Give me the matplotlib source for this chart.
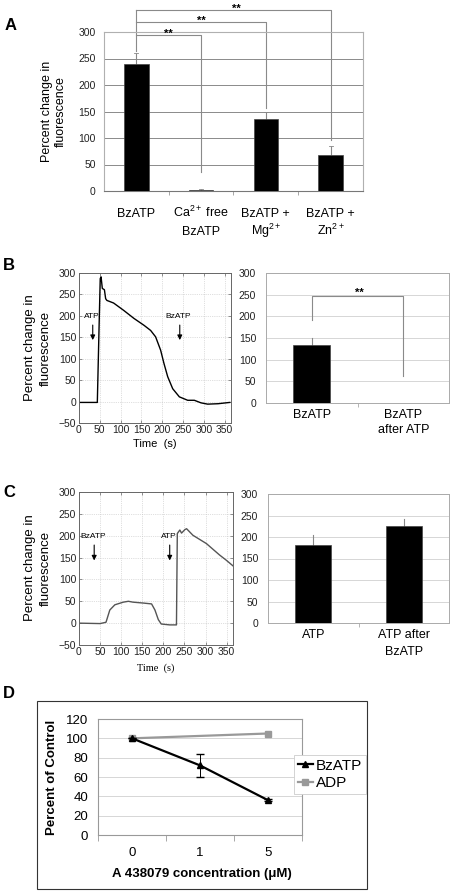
import matplotlib
matplotlib.use("Agg")
import matplotlib.pyplot as plt
from matplotlib.patches import Rectangle
import numpy as np

plt.rcParams['font.family'] = ['Liberation Sans', 'DejaVu Sans']
plt.rcParams['mathtext.fontset'] = 'custom'
plt.rcParams['mathtext.rm'] = 'Liberation Sans'
plt.rcParams['mathtext.it'] = 'Liberation Sans'

# ---------------- data ----------------
catsA = ["BzATP", "Ca$^{2+}$ free\nBzATP", "BzATP +\nMg$^{2+}$", "BzATP +\nZn$^{2+}$"]
valsA = [240, 2, 135, 67]
errA = [20, 2, 14, 17]

tB = [0, 20, 44, 48, 51, 53, 56, 61, 64, 67, 83, 107, 132, 156, 172, 184, 196, 204,
      213, 225, 241, 261, 277, 293, 309, 334, 362]
yB = [-2, -2, -2, 166, 287, 291, 264, 261, 240, 236, 230, 213, 194, 178, 166, 151, 120, 89,
      58, 30, 11, 3, 3, -3, -6, -5, -2]

catsB = ["BzATP", "BzATP\nafter ATP"]
valsB = [134, 0]
errB = [15, 0]

tC = [0, 50, 64, 73, 85, 105, 117, 128, 152, 172, 180, 188, 195, 215, 231, 233, 239, 243,
      251, 255, 270, 302, 333, 349, 365]
yC = [0, -1, 2, 30, 42, 48, 50, 48, 46, 44, 30, 8, -2, -4, -4, 205, 213, 206,
      214, 216, 201, 182, 156, 144, 131]

catsC = ["ATP", "ATP after\nBzATP"]
valsC = [182, 226]
errC = [23, 16]

concD = ["0", "1", "5"]
bzD = [100, 72, 36]
bzErrD = [0, 12, 1]
adpD = [100, 105]

# ---------------- layout helpers ----------------
W, H = 452, 893
fig = plt.figure(figsize=(W / 100, H / 100), dpi=100)


def rect(l, t, r, b):
    return [l / W, 1 - b / H, (r - l) / W, (b - t) / H]


def ftext(x, y, s, **kw):
    return fig.text(x / W, 1 - y / H, s, **kw)


# ---------------- Panel A ----------------
axA = fig.add_axes(rect(104, 32, 363, 191))
xA = np.arange(len(catsA))
axA.bar(xA, valsA, width=0.38, color='black', edgecolor='#444', lw=0.5, zorder=3)
for x, v, e in zip(xA, valsA, errA):
    axA.plot([x, x], [v, v + e], color='#888', lw=0.8, zorder=2, solid_capstyle='butt')
    axA.plot([x - 0.03, x + 0.03], [v + e, v + e], color='#888', lw=0.6, zorder=2)
axA.set_xlim(-0.5, 3.5)
axA.set_ylim(0, 300)
axA.set_yticks(range(0, 301, 50))
axA.yaxis.grid(True, color='#8a8a8a', lw=0.7)
axA.set_axisbelow(True)
for s in ['top', 'right', 'left']:
    axA.spines[s].set_color('#b0b0b0')
    axA.spines[s].set_linewidth(0.8)
axA.spines['bottom'].set_color('#777')
axA.tick_params(axis='y', length=0, pad=6, labelsize=7.5, labelcolor='#222')
axA.set_xticks([])
axA.set_xticks([0.5, 1.5, 2.5], minor=True)
axA.tick_params(axis='x', which='minor', length=3, color='#999', direction='out')
for i, lab in enumerate(catsA):
    parts = lab.split("\n")
    for j, p in enumerate(parts):
        axA.text(i, -0.1635 - 0.114 * j, p, transform=axA.get_xaxis_transform(),
                 ha='center', va='baseline', fontsize=9)

# significance brackets (x_right, y_bar, y_right_bottom, star_x, star_y)
gray = '#8a8a8a'
axA.plot([0, 0], [265, 341], color=gray, lw=0.8, clip_on=False)
for xr, yb, yr, sx, sy in [(1, 294, 36, 0.5, 291), (2, 319, 157, 1.0, 316), (3, 341, 96, 1.55, 338)]:
    axA.plot([0, xr, xr], [yb, yb, yr], color=gray, lw=0.8, clip_on=False)
    axA.text(sx, sy, "**", ha='center', va='baseline', fontsize=8, fontweight='bold', clip_on=False)
axA.set_ylabel("Percent change in\nfluorescence", fontsize=9, labelpad=8, linespacing=1.25)

ftext(5, 25, "A", fontsize=12, fontweight='bold', va='center')


# ---------------- trace axes helper ----------------
def trace_axes(box, t, y, color):
    ax = fig.add_axes(rect(*box))
    ax.plot(t, y, color=color, lw=1.0)
    ax.set_xlim(0, 365)
    ax.set_ylim(-50, 300)
    ax.set_xticks(range(0, 351, 50))
    ax.set_yticks(range(-50, 301, 50))
    ax.grid(True, color='#c0c0c0', lw=0.5, linestyle=':')
    for s in ax.spines.values():
        s.set_color('#666')
        s.set_linewidth(0.7)
    ax.tick_params(direction='in', length=2, width=0.5, labelsize=7.5, labelcolor='#222',
                   color='#666', top=True, right=True)
    ax.tick_params(axis='x', pad=1.5)
    ax.tick_params(axis='y', pad=2)
    return ax


def arrow(ax, x, label):
    ax.annotate('', xy=(x, 137), xytext=(x, 185),
                arrowprops=dict(arrowstyle='-|>', color='black', lw=0.8, mutation_scale=7))
    ax.text(x - 3, 199, label, ha='center', va='center', fontsize=6)


def bar_axes(box, cats, vals, errs, base1, base2):
    ax = fig.add_axes(rect(*box))
    x = np.arange(len(cats))
    ax.bar(x, vals, width=0.4, color='black', edgecolor='#444', lw=0.5, zorder=3)
    for xi, v, e in zip(x, vals, errs):
        if e > 0:
            ax.plot([xi, xi], [v, v + e], color='#888', lw=0.8, zorder=2)
    ax.set_xlim(-0.5, 1.5)
    ax.set_ylim(0, 300)
    ax.set_yticks(range(0, 301, 50))
    ax.yaxis.grid(True, color='#d0d0d0', lw=0.6)
    ax.set_axisbelow(True)
    for s in ax.spines.values():
        s.set_color('#aaa')
        s.set_linewidth(0.7)
    ax.tick_params(axis='y', length=0, pad=7, labelsize=7.5, labelcolor='#222')
    ax.set_xticks([])
    ax.set_xticks([0.5], minor=True)
    ax.tick_params(axis='x', which='minor', length=3, color='#aaa')
    for i, lab in enumerate(cats):
        for j, p in enumerate(lab.split("\n")):
            ax.text(i, base1 if j == 0 else base2, p, transform=ax.get_xaxis_transform(),
                    ha='center', va='baseline', fontsize=9)
    return ax


# ---------------- Panel B ----------------
axB = trace_axes((79, 273, 231, 423), tB, yB, 'black')
arrow(axB, 33, "ATP")
arrow(axB, 242, "BzATP")
ftext(155, 447, "Time  (s)", ha='center', va='baseline', fontsize=8)
ftext(38, 348, "Percent change in\nfluorescence", rotation=90, ha='center', va='center',
      fontsize=9.5, linespacing=1.35)
ftext(3, 266, "B", fontsize=12, fontweight='bold', va='center')

axBb = bar_axes((266, 273, 449, 403), catsB, valsB, errB, -0.115, -0.23)
axBb.plot([0, 0, 1, 1], [191, 246, 246, 63], color=gray, lw=0.8)
axBb.text(0.52, 248, "**", ha='center', va='baseline', fontsize=8, fontweight='bold')

# ---------------- Panel C ----------------
axC = trace_axes((79, 492, 233, 645), tC, yC, '#555555')
arrow(axC, 36, "BzATP")
arrow(axC, 215, "ATP")
ftext(156, 671, "Time  (s)", ha='center', va='baseline', fontsize=7.5,
      family=['Liberation Serif', 'DejaVu Serif'])
ftext(38, 568, "Percent change in\nfluorescence", rotation=90, ha='center', va='center',
      fontsize=9.5, linespacing=1.35)
ftext(3, 492, "C", fontsize=12, fontweight='bold', va='center')

axCb = bar_axes((268, 494, 449, 623), catsC, valsC, errC, -0.116, -0.248)

# ---------------- Panel D ----------------
fig.patches.append(Rectangle((37 / W, 1 - 889 / H), 330 / W, 188 / H, transform=fig.transFigure,
                             fill=False, edgecolor='#333', lw=0.8))
axD = fig.add_axes(rect(98, 719, 302, 835))
xD = np.arange(len(concD))
axD.plot(xD, bzD, color='black', lw=1.6, marker='^', ms=4.5, label='BzATP', zorder=4)
axD.errorbar(xD, bzD, yerr=bzErrD, fmt='none', ecolor='black', elinewidth=0.7, capsize=3, zorder=4)
axD.plot([xD[0], xD[-1]], adpD, color='#999999', lw=1.6, marker='s', ms=4, label='ADP', zorder=3)
axD.set_xlim(-0.5, 2.5)
axD.set_ylim(0, 120)
axD.set_yticks(range(0, 121, 20))
axD.set_xticks(xD, concD)
axD.set_xticks([-0.5, 0.5, 1.5, 2.5], minor=True)
axD.yaxis.grid(True, color='#d0d0d0', lw=0.6)
axD.set_axisbelow(True)
for s in axD.spines.values():
    s.set_color('#999')
    s.set_linewidth(0.8)
axD.tick_params(axis='x', which='major', length=0, pad=9, labelsize=9.5)
axD.tick_params(axis='x', which='minor', length=4, color='#999')
axD.tick_params(axis='y', length=0, pad=7, labelsize=9.5)
ftext(202, 877, "A 438079 concentration (μM)", ha='center', va='baseline', fontsize=9.5,
      fontweight='bold')
ftext(52, 777, "Percent of Control", rotation=90, ha='center', va='center', fontsize=9.5,
      fontweight='bold')
ftext(3, 693, "D", fontsize=12, fontweight='bold', va='center')
leg = axD.legend(loc='upper left', bbox_to_anchor=(294 / W, 1 - 755 / H),
                 bbox_transform=fig.transFigure, fontsize=11, frameon=True, fancybox=False,
                 edgecolor='#ccc', framealpha=1, borderpad=0.25, handlelength=1.0,
                 handletextpad=0.2, labelspacing=0.2, borderaxespad=0)
leg.get_frame().set_linewidth(0.6)

fig.savefig("out.png", dpi=100)
